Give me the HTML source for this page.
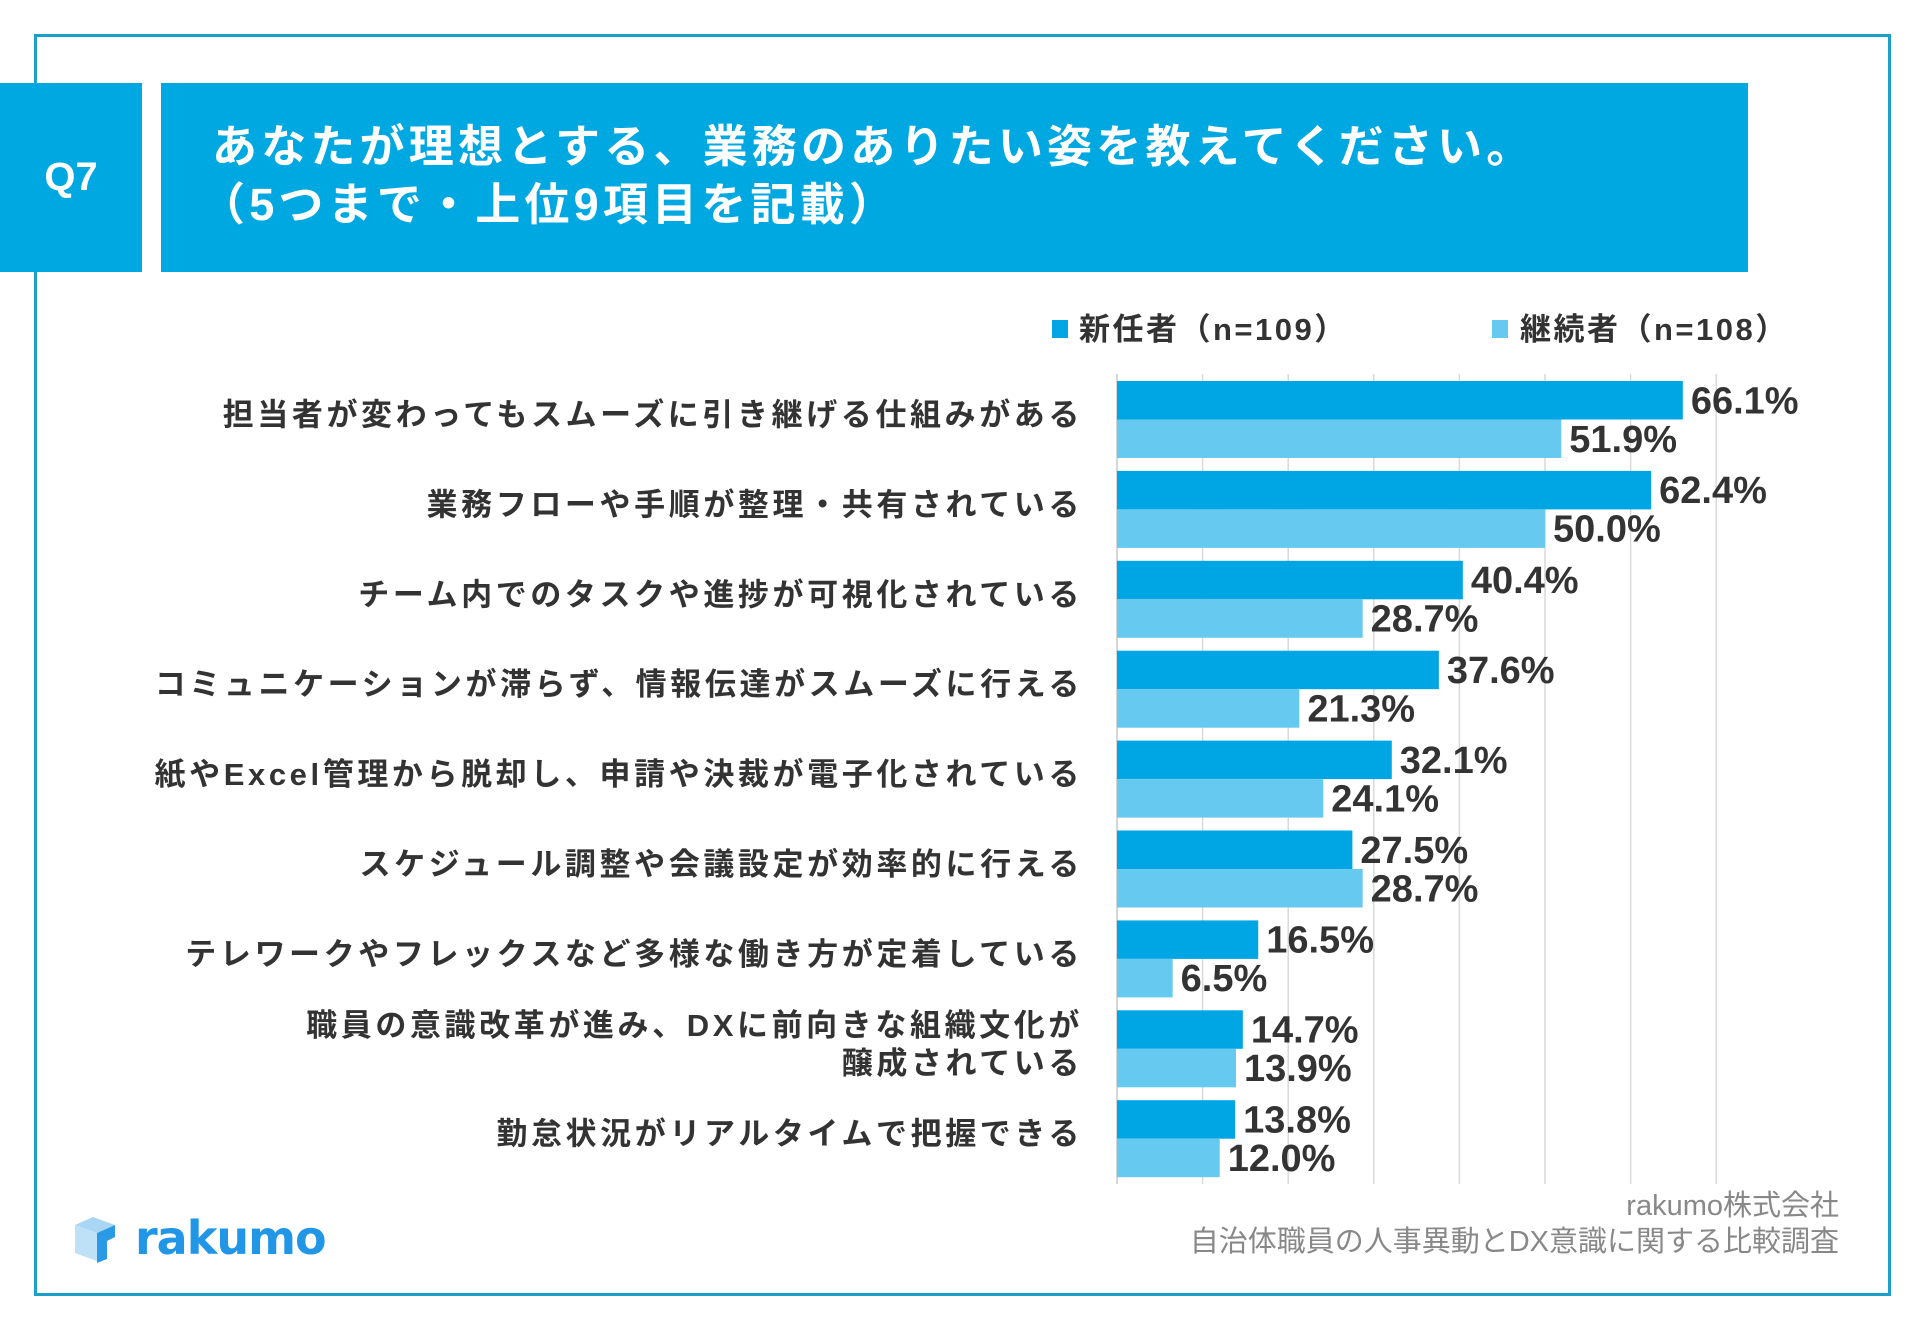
<!DOCTYPE html>
<html><head><meta charset="utf-8"><style>
html,body{margin:0;padding:0;background:#fff;}
body{width:1920px;height:1329px;position:relative;overflow:hidden;font-family:"Liberation Sans","Noto Sans CJK JP",sans-serif;}
.abs{position:absolute;}
</style></head><body>
<div class="abs" style="left:34px;top:34px;width:1866px;height:1262px;border:3px solid #1c9fcb;box-sizing:border-box;width:1857px;"></div>
<div class="abs" style="left:0;top:83px;width:142px;height:189px;background:#00a8e1;color:#fff;font-weight:bold;font-size:40px;line-height:189px;text-align:center;">Q7</div>
<div class="abs" style="left:161px;top:83px;width:1587px;height:189px;background:#00a8e1;"></div>
<div class="abs" style="left:212px;top:118px;color:#fff;font-weight:bold;font-size:45px;line-height:58px;letter-spacing:4.2px;font-family:'Liberation Sans','Noto Sans CJK JP',sans-serif;white-space:nowrap;">あなたが理想とする、業務のありたい姿を教えてください。<br><span style="margin-left:-12px">（5つまで・上位9項目を記載）</span></div>

<svg class="abs" style="left:0;top:0" width="1920" height="1329">
<g id="legend">
<rect x="1052" y="320" width="16" height="18" fill="#00a6e4"/>
<text x="1079" y="340" font-size="31" font-weight="bold" fill="#333" letter-spacing="2.5" font-family="Liberation Sans,Noto Sans CJK JP,sans-serif">新任者（n=109）</text>
<rect x="1492" y="320" width="16" height="18" fill="#66c9ef"/>
<text x="1520" y="340" font-size="31" font-weight="bold" fill="#333" letter-spacing="2.5" font-family="Liberation Sans,Noto Sans CJK JP,sans-serif">継続者（n=108）</text>
</g>
<g id="grid"></g><g id="bars"></g><g id="labels"></g>
</svg>

<div class="abs" style="left:73px;top:1215px;width:260px;height:50px;">
<svg width="44" height="48" style="position:absolute;left:0;top:0">
<polygon points="2,10 20,2 42,10 24,18" fill="#a9d6f5"/>
<polygon points="2,10 24,18 24,46 2,38" fill="#bfe1f8"/>
<polygon points="24,18 42,10 42,22 34,26 34,44 24,48" fill="#2a9ae6"/>
</svg>
<div style="position:absolute;left:62px;top:-4px;font-size:46px;font-weight:bold;color:#2196e6;letter-spacing:-1px;font-family:'DejaVu Sans','Liberation Sans',sans-serif;">rakumo</div>
</div>
<div class="abs" style="right:81px;top:1188px;text-align:right;color:#888;font-size:29px;line-height:36px;">rakumo株式会社<br>自治体職員の人事異動とDX意識に関する比較調査</div>

<script>
const categories=["担当者が変わってもスムーズに引き継げる仕組みがある","業務フローや手順が整理・共有されている","チーム内でのタスクや進捗が可視化されている","コミュニケーションが滞らず、情報伝達がスムーズに行える","紙やExcel管理から脱却し、申請や決裁が電子化されている","スケジュール調整や会議設定が効率的に行える","テレワークやフレックスなど多様な働き方が定着している","職員の意識改革が進み、DXに前向きな組織文化が|醸成されている","勤怠状況がリアルタイムで把握できる"];
const newValues=[66.1,62.4,40.4,37.6,32.1,27.5,16.5,14.7,13.8];
const contValues=[51.9,50.0,28.7,21.3,24.1,28.7,6.5,13.9,12.0];
const gridTicks=[0,10,20,30,40,50,60,70];
const NS="http://www.w3.org/2000/svg";
const x0=1117,pxPer=8.56,top0=381,pitch=89.9,bh=38.5;
const xs=v=>x0+v*pxPer;
const ys=i=>top0+i*pitch;
function mk(tag,attrs,parent){const e=document.createElementNS(NS,tag);for(const k in attrs)e.setAttribute(k,attrs[k]);document.getElementById(parent).appendChild(e);return e;}
gridTicks.forEach(t=>{const l=mk('line',{x1:xs(t),x2:xs(t),y1:374,y2:1184,stroke:t===0?'#c8c8c8':'#d9d9d9','stroke-width':1.5},'grid');

});
const ff="Liberation Sans Narrow,Liberation Sans,sans-serif";
categories.forEach((c,i)=>{
 const y=ys(i);
 const b1=mk('rect',{x:x0,y:y,width:xs(newValues[i])-x0,height:bh,fill:'#00a6e4'},'bars');
 
 
 const b2=mk('rect',{x:x0,y:y+bh,width:xs(contValues[i])-x0,height:bh,fill:'#66c9ef'},'bars');
 
 
 const t1=mk('text',{x:xs(newValues[i])+8,y:y+bh/2+13,'font-size':38,'font-weight':'bold',fill:'#333','font-family':ff},'labels');
 t1.textContent=newValues[i].toFixed(1)+'%';
 
 
 const t2=mk('text',{x:xs(contValues[i])+8,y:y+bh*1.5+13,'font-size':38,'font-weight':'bold',fill:'#333','font-family':ff},'labels');
 t2.textContent=contValues[i].toFixed(1)+'%';
 
 
 const lines=c.split('|');
 lines.forEach((ln,j)=>{
  const cy=y+bh+ (j-(lines.length-1)/2)*38 +6;
  const t=mk('text',{x:1083,y:cy,'text-anchor':'end','font-size':31,'font-weight':'bold',fill:'#333','font-family':'Liberation Sans,Noto Sans CJK JP,sans-serif','letter-spacing':3.6},'labels');
  t.textContent=ln;
  
  
 });
});
</script>
</body></html>
